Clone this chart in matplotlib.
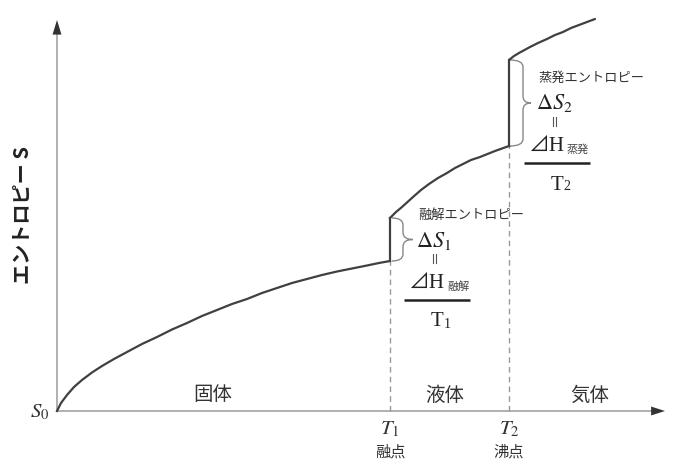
import numpy as np
import matplotlib
matplotlib.use("Agg")
import matplotlib.pyplot as plt
from matplotlib.path import Path
from matplotlib.patches import PathPatch

plt.rcParams['font.family'] = ['Noto Sans CJK JP', 'DejaVu Sans']
plt.rcParams['mathtext.fontset'] = 'stix'

# curve (T, S in arbitrary units, origin at S0)
solid_T = [0, 4, 10, 17, 25, 35, 45, 57, 70, 85, 100, 115, 130, 145, 160,
           175, 190, 205, 220, 235, 250, 265, 280, 295, 310, 322, 333]
solid_S = [0, 8, 16, 24, 31, 38.5, 45, 52, 59, 67, 74, 81.5, 88, 95, 101,
           107, 112, 118, 123, 128, 132, 136, 139.5, 142.5, 145.5, 148, 150]
liquid_T = [333, 339, 345, 356, 364, 372, 381, 390, 398, 406, 414, 423, 438,
            452]
liquid_S = [193, 199, 204, 214, 221, 227, 233, 238, 243, 247, 251, 254, 260,
            265]
gas_T = [452, 457, 462, 473, 481, 490, 498, 506, 514, 522, 530, 538]
gas_S = [351, 355, 358, 364, 368, 372, 376, 379, 383, 386, 389, 392]

T1 = 333
T2 = 452
phases = ['固体', '液体', '気体']
phase_x = [156, 388, 533]

SERIF = 'Liberation Serif'
LINE = '#404040'


def brace(ax, x0, xa, xt, ytop, ybot, r=7):
    ym = (ytop + ybot) / 2
    verts = [(x0, ytop), (xa, ytop), (xa, ytop - r),
             (xa, ym + r), (xa, ym), (xt, ym),
             (xa, ym), (xa, ym - r),
             (xa, ybot + r), (xa, ybot), (x0, ybot)]
    codes = [Path.MOVETO, Path.CURVE3, Path.CURVE3,
             Path.LINETO, Path.CURVE3, Path.CURVE3,
             Path.CURVE3, Path.CURVE3,
             Path.LINETO, Path.CURVE3, Path.CURVE3]
    ax.add_patch(PathPatch(Path(verts, codes), facecolor='none',
                           edgecolor='#888888', lw=1.0))


def entropy_note(ax, x, ytitle, title, sub, label, idx):
    # x is the left edge of the text block
    ax.text(x + 2, ytitle, title, fontsize=9.5, color='#333333',
            va='center', ha='left')
    ax.text(x, ytitle - 25, r'$\Delta S_{%s}$' % idx, fontsize=16,
            color='#222222', va='center', ha='left')
    # vertical "equals" sign
    for dx in (16.5, 19.5):
        ax.plot([x + dx, x + dx], [ytitle - 48, ytitle - 39],
                color='#555555', lw=0.8)
    ax.text(x - 8, ytitle - 69, '⊿H', fontsize=15,
            family=[SERIF, 'Noto Sans CJK JP', 'DejaVu Sans'],
            color='#222222', va='center', ha='left')
    ax.text(x + 31, ytitle - 72, sub, fontsize=8, color='#444444',
            va='center', ha='left')
    ax.plot([x - 12, x + 54], [ytitle - 85, ytitle - 85], color='#222222',
            lw=1.8, solid_capstyle='butt')
    ax.text(x + 21, ytitle - 107, 'T', fontsize=15, family=SERIF,
            color='#222222', va='center', ha='center')
    ax.text(x + 31, ytitle - 109, label, fontsize=10, family=SERIF,
            color='#222222', va='center', ha='center')


fig = plt.figure(figsize=(6.98, 4.66), dpi=100)
ax = fig.add_axes([0, 0, 1, 1])
ax.set_xlim(-57, 641)
ax.set_ylim(-55, 411)
ax.axis('off')

# axes with arrows
ax.plot([0, 596], [0, 0], color='#aaaaaa', lw=1.3)
ax.plot([0, 0], [0, 378], color='#aaaaaa', lw=1.3)
ax.annotate('', xy=(608, 0), xytext=(594, 0),
            arrowprops=dict(arrowstyle='-|>,head_length=1.0,head_width=0.32',
                            color='#333333', lw=0, shrinkA=0, shrinkB=0))
ax.annotate('', xy=(0, 391), xytext=(0, 376),
            arrowprops=dict(arrowstyle='-|>,head_length=1.05,head_width=0.32',
                            color='#333333', lw=0, shrinkA=0, shrinkB=0))

# dashed guides
ax.plot([T1, T1], [0, solid_S[-1]], color='#999999', lw=1, dashes=(4, 3))
ax.plot([T2, T2], [0, liquid_S[-1]], color='#999999', lw=1, dashes=(4, 3))

# entropy curve with the two jumps
ax.plot(solid_T, solid_S, color=LINE, lw=1.6)
ax.plot([T1, T1], [solid_S[-1], liquid_S[0]], color=LINE, lw=1.6)
ax.plot(liquid_T, liquid_S, color=LINE, lw=1.6)
ax.plot([T2, T2], [liquid_S[-1], gas_S[0]], color=LINE, lw=1.6)
ax.plot(gas_T, gas_S, color=LINE, lw=1.6, solid_capstyle='round')

# braces and notes
brace(ax, T1 + 2, T1 + 13, T1 + 23, liquid_S[0], solid_S[-1])
brace(ax, T2 + 1, T2 + 14, T2 + 22, gas_S[0], liquid_S[-1])
entropy_note(ax, 359, 196, '融解エントロピー', '融解', '1', '1')
entropy_note(ax, 479, 333, '蒸発エントロピー', '蒸発', '2', '2')

# phase names
for name, px in zip(phases, phase_x):
    ax.text(px, 16, name, fontsize=14, color='#333333', ha='center',
            va='center')

# axis labels
ax.text(-17, 0, r'$S_0$', fontsize=15, color='#333333', ha='center',
        va='center')
ax.text(T1, -17, r'$T_1$', fontsize=15, color='#333333', ha='center',
        va='center')
ax.text(T2, -17, r'$T_2$', fontsize=15, color='#333333', ha='center',
        va='center')
ax.text(T1, -41, '融点', fontsize=11, color='#333333', ha='center',
        va='center')
ax.text(T2, -41, '沸点', fontsize=11, color='#333333', ha='center',
        va='center')
ax.text(-35, 196, 'エントロピー S', fontsize=14.5, fontweight='bold',
        rotation=90, color='#222222', ha='center', va='center')

fig.savefig('out.png', dpi=100)
